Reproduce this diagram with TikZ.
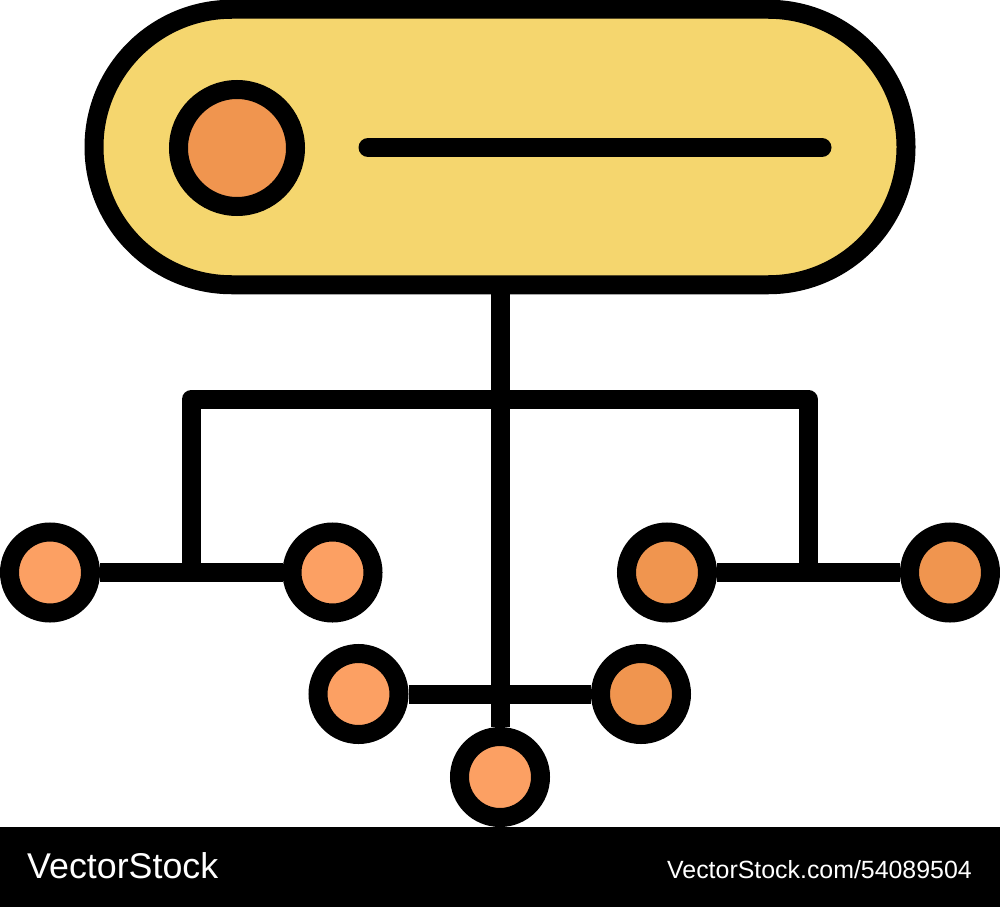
\documentclass[tikz,border=0pt]{standalone}
\usepackage{fontspec}
\setmainfont{Liberation Sans}
\usetikzlibrary{backgrounds}
\definecolor{pillfill}{HTML}{F5D66E}
\definecolor{orangedark}{HTML}{F0954F}
\definecolor{orangelight}{HTML}{FCA063}
\tikzset{
  stroke/.style={draw=black,line width=19pt},
  dot/.style={stroke,circle,inner sep=0pt,minimum size=81pt},
  dotl/.style={dot,fill=orangelight},
  dotd/.style={dot,fill=orangedark},
  wire/.style={draw=black,line width=19pt,line join=round},
  wm/.style={text=white,inner sep=0pt,anchor=base west}
}
\begin{document}
\begin{tikzpicture}[x=1pt,y=-1pt]
\useasboundingbox (0,0) rectangle (1000,907);
\begin{scope}[on background layer]
  \fill[white] (0,0) rectangle (1000,907);
\end{scope}
% pill
\node[stroke,fill=pillfill,rectangle,rounded corners=137.75pt,inner sep=0pt,
      minimum width=812pt,minimum height=275.5pt] (pill) at (500,147) {};
\node[stroke,circle,fill=orangedark,inner sep=0pt,minimum size=117pt] (head) at (237,148) {};
\coordinate (ls) at (368,147.5);
\coordinate (le) at (822,147.5);
\draw[line width=19pt,line cap=round] (ls) -- (le);
% leaf circles
\node[dotl] (c1) at (50,572.5) {};
\node[dotl] (c2) at (332.5,572.5) {};
\node[dotd] (c3) at (667,572.5) {};
\node[dotd] (c4) at (950,572.5) {};
\node[dotl] (c5) at (358.5,694) {};
\node[dotd] (c6) at (641,694) {};
\node[dotl] (c7) at (500,777) {};
% junction coordinates
\coordinate (jl) at (191.5,572.5);
\coordinate (jr) at (808,572.5);
\coordinate (bl) at (191.5,399);
\coordinate (br) at (808,399);
\begin{scope}[on background layer]
  \draw[wire] (pill.south) -- (c7.north);
  \draw[wire] (jl) -- (bl) -- (br) -- (jr);
  \draw[wire] (c1) -- (c2);
  \draw[wire] (c3) -- (c4);
  \draw[wire] (c5) -- (c6);
\end{scope}
% watermark bar
\fill[black] (0,827) rectangle (1000,907);
\node[wm,font=\fontsize{35.8}{40}\selectfont] (wl) at (27,878) {VectorStock};
\node[wm,font=\fontsize{24.9}{28}\selectfont] (wr) at (667,878) {VectorStock.com/54089504};
\end{tikzpicture}
\end{document}
